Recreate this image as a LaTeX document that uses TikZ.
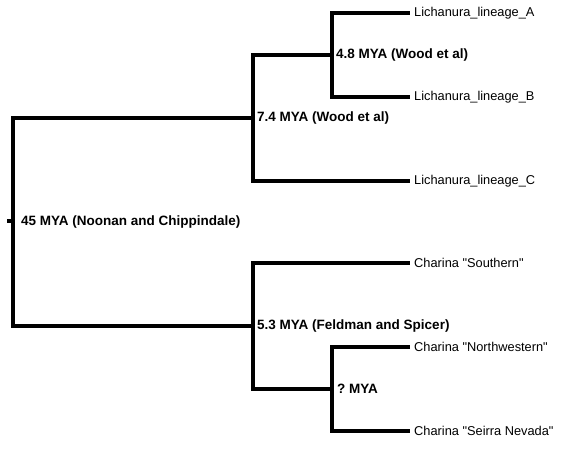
\documentclass[tikz,border=0pt]{standalone}
\usepackage{fontspec}
\setmainfont{Liberation Sans}
\frenchspacing
\begin{document}
\begin{tikzpicture}[x=1pt,y=-1pt,
  branch/.style={line width=3.6pt, line join=miter, line cap=butt},
  leaf/.style={anchor=west, inner sep=4pt, font=\fontsize{12.8}{14}\selectfont},
  age/.style={anchor=west, inner sep=0pt, font=\bfseries\fontsize{13.5}{15}\selectfont}]
\useasboundingbox (0,0) rectangle (577,452);
% internal nodes
\coordinate (stub) at (7,221);
\coordinate (root) at (13,221);
\coordinate (n74) at (253,118);
\coordinate (n48) at (332,55);
\coordinate (n53) at (253,326);
\coordinate (nq) at (332,389);
% leaves
\node[leaf] (lA) at (410,13) {Lichanura\_lineage\_A};
\node[leaf] (lB) at (410,97) {Lichanura\_lineage\_B};
\node[leaf] (lC) at (410,181) {Lichanura\_lineage\_C};
\node[leaf] (lS) at (410,263) {Charina \textquotedbl Southern\textquotedbl};
\node[leaf] (lNW) at (410,347) {Charina \textquotedbl Northwestern\textquotedbl};
\node[leaf] (lSN) at (410,431) {Charina \textquotedbl Seirra Nevada\textquotedbl};
% branches
\draw[branch] (stub) -- (root);
\draw[branch] (root) |- (n74);
\draw[branch] (root) |- (n53);
\draw[branch] (n74) |- (n48);
\draw[branch] (n74) |- (lC.west);
\draw[branch] (n48) |- (lA.west);
\draw[branch] (n48) |- (lB.west);
\draw[branch] (n53) |- (lS.west);
\draw[branch] (n53) |- (nq);
\draw[branch] (nq) |- (lNW.west);
\draw[branch] (nq) |- (lSN.west);
% age labels
\node[age] (t45) at (21,222) {45 MYA (Noonan and Chippindale)};
\node[age] (t74) at (257,118) {7.4 MYA (Wood et al)};
\node[age] (t48) at (336,55) {4.8 MYA (Wood et al)};
\node[age] (t53) at (257,326) {5.3 MYA (Feldman and Spicer)};
\node[age] (tq) at (337,389) {? MYA};
\end{tikzpicture}
\end{document}
